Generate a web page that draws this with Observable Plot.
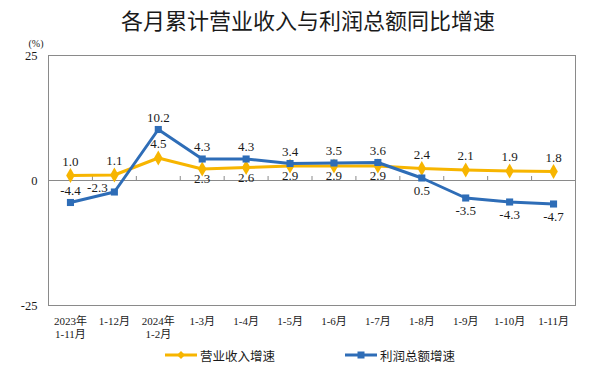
<!DOCTYPE html>
<html><head><meta charset="utf-8">
<script src="https://cdn.jsdelivr.net/npm/d3@7"></script>
<script src="https://cdn.jsdelivr.net/npm/@observablehq/plot@0.6"></script>
<style>
body{margin:0;background:#fff;}
#wrap{width:600px;height:368px;position:relative;overflow:hidden;}
#title{height:31px;line-height:38px;text-align:center;font-family:"Noto Sans CJK SC",sans-serif;font-size:22px;color:#1a1a1a;padding-left:16px;box-sizing:border-box;}
#legend{position:relative;height:25px;font-family:"Liberation Serif","Noto Sans CJK SC",serif;font-size:12.5px;color:#1a1a1a;}
.item{position:absolute;top:3px;display:flex;align-items:center;height:18px;}
.item svg{margin-right:3px;}
</style></head>
<body>
<div id="wrap">
<div id="title">各月累计营业收入与利润总额同比增速</div>
<div id="chart"></div>
<div id="legend"></div>
</div>
<script>
const categories = ["2023年\n1-11月","1-12月","2024年\n1-2月","1-3月","1-4月","1-5月","1-6月","1-7月","1-8月","1-9月","1-10月","1-11月"];
const revenueGrowth = [1.0,1.1,4.5,2.3,2.6,2.9,2.9,2.9,2.4,2.1,1.9,1.8];
const profitGrowth = [-4.4,-2.3,10.2,4.3,4.3,3.4,3.5,3.6,0.5,-3.5,-4.3,-4.7];
const revenueLabelSide = ["above","above","above","below","below","below","below","below","above","above","above","above"];
const profitLabelSide = ["above","aboveLeft","above","above","above","above","above","above","below","below","below","below"];
const yTicks = [-25,0,25];
const seriesNames = ["营业收入增速","利润总额增速"];

const YELLOW = "#f7b500", BLUE = "#2e6db7";
const idx = d3.range(categories.length);
const rev = idx.map(i => ({i, v: revenueGrowth[i], side: revenueLabelSide[i]}));
const pro = idx.map(i => ({i, v: profitGrowth[i], side: profitLabelSide[i]}));
const boundaries = idx.slice(0, -1).map(i => i + 0.5);
const fmt = v => v.toFixed(1);

const labelMark = (data, side, dx, dy) => Plot.text(data.filter(d => d.side === side), {
  x: "i", y: "v", text: d => fmt(d.v), dx, dy, fontSize: 13, fill: "#1a1a1a"
});

const chart = Plot.plot({
  width: 600, height: 312,
  marginTop: 24, marginBottom: 38, marginLeft: 48, marginRight: 25,
  style: {fontFamily: '"Liberation Serif","Noto Sans CJK SC",serif', color: "#1a1a1a", background: "#fff"},
  x: {type: "linear", domain: [-0.5, categories.length - 0.5]},
  y: {domain: [-25, 25]},
  marks: [
    Plot.frame({stroke: "#8a8a8a"}),
    Plot.ruleY([0], {stroke: "#8a8a8a"}),
    Plot.ruleX(boundaries, {y1: 0, y2: 0.8, stroke: "#8a8a8a"}),
    Plot.axisY({ticks: yTicks, tickFormat: d => String(d), tickSize: 0, tickPadding: 11, fontSize: 12.5, label: null}),
    Plot.axisX({ticks: idx, tickFormat: i => categories[i], tickSize: 0, tickPadding: 10, fontSize: 11, lineHeight: 1.2, label: null}),
    Plot.text(["(%)"], {frameAnchor: "top-left", dx: -20, dy: -16, fontSize: 10, fill: "#1a1a1a"}),
    Plot.line(rev, {x: "i", y: "v", stroke: YELLOW, strokeWidth: 3}),
    Plot.dot(rev, {x: "i", y: "v", symbol: "diamond", r: 4.5, fill: YELLOW}),
    Plot.line(pro, {x: "i", y: "v", stroke: BLUE, strokeWidth: 3}),
    Plot.dot(pro, {x: "i", y: "v", symbol: "square", r: 4, fill: BLUE}),
    labelMark(rev, "above", 0, -14),
    labelMark(rev, "below", 0, 10),
    labelMark(pro, "above", 0, -12),
    labelMark(pro, "aboveLeft", -17, -4),
    labelMark(pro, "below", 0, 13)
  ]
});
document.getElementById("chart").appendChild(chart);

const legend = document.getElementById("legend");
const legendItems = [
  {name: seriesNames[0], color: YELLOW, symbol: "diamond", left: 165},
  {name: seriesNames[1], color: BLUE, symbol: "square", left: 345}
];
for (const it of legendItems) {
  const div = document.createElement("div");
  div.className = "item";
  div.style.left = it.left + "px";
  const sym = it.symbol === "diamond"
    ? `<path d="M16 5 L20 9 L16 13 L12 9 Z" fill="${it.color}"/>`
    : `<rect x="12.5" y="5.5" width="7" height="7" fill="${it.color}"/>`;
  div.innerHTML = `<svg width="32" height="18"><line x1="0" x2="32" y1="9" y2="9" stroke="${it.color}" stroke-width="3"/>${sym}</svg><span>${it.name}</span>`;
  legend.appendChild(div);
}
</script>
</body></html>
